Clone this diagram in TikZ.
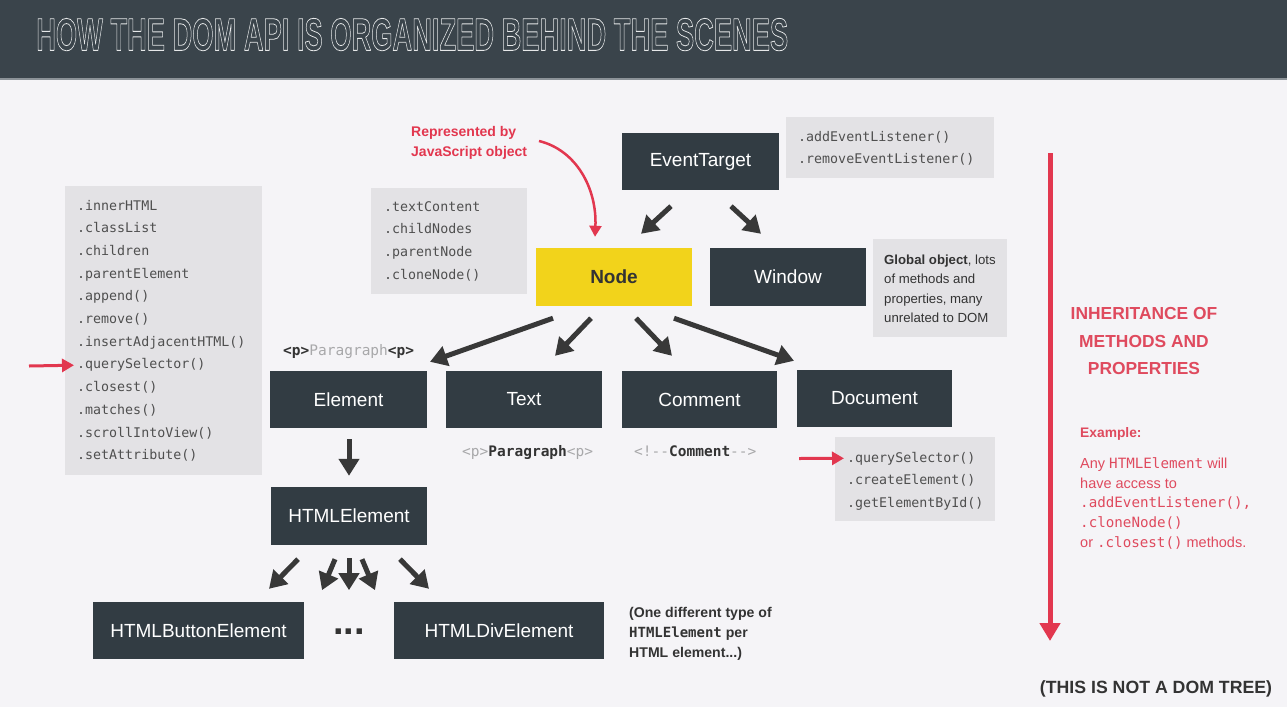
\documentclass[tikz,border=0pt]{standalone}
\usepackage{graphicx}
\usepackage{fontspec}
\setmainfont{Liberation Sans}
\newfontfamily\codefont{DejaVu Sans Mono}
\usetikzlibrary{arrows.meta,calc}

\definecolor{canvas}{HTML}{F5F4F7}
\definecolor{bar}{HTML}{3A444B}
\definecolor{barline}{HTML}{8C9398}
\definecolor{titlegray}{HTML}{E6E8E9}
\definecolor{slate}{HTML}{323C43}
\definecolor{nodeyellow}{HTML}{F2D31B}
\definecolor{propgray}{HTML}{E3E2E5}
\definecolor{codegray}{HTML}{4F4F4F}
\definecolor{ink}{HTML}{333333}
\definecolor{faint}{HTML}{A8A8AA}
\definecolor{accent}{HTML}{E2374F}
\definecolor{accentsoft}{HTML}{DF4A5E}
\definecolor{arrowgray}{HTML}{383838}

\newcommand{\redcode}[1]{{\codefont\fontsize{14.2}{17}\selectfont #1}}
% outlined (stroked, unfilled) lettering for the heading
\newcommand{\outlined}[1]{\special{pdf:literal direct 1 Tr 0.18 w 1 j}#1\special{pdf:literal direct 0 Tr}}

\tikzset{
  classbox/.style={fill=slate, text=white, inner sep=0pt,
    minimum width=#1, minimum height=57pt,
    font=\fontsize{19}{22}\selectfont},
  classbox/.default=156pt,
  propbox/.style 2 args={fill=propgray, inner sep=0pt, anchor=north west,
    minimum width=#1, minimum height=#2},
  codeline/.style={inner sep=0pt, anchor=base west, text=codegray,
    font=\codefont\fontsize{13.3}{16}\selectfont},
  sideline/.style={inner sep=0pt, anchor=base west, text=ink,
    font=\fontsize{13.2}{16}\selectfont},
  tag/.style={inner sep=0pt, anchor=base west,
    font=\codefont\fontsize{14.5}{17}\selectfont},
  redline/.style={inner sep=0pt, anchor=base west, text=accentsoft,
    font=\fontsize{14.5}{17}\selectfont},
  redhead/.style={inner sep=0pt, anchor=base, text=accentsoft,
    font=\bfseries\fontsize{17.4}{20}\selectfont},
  noteline/.style={inner sep=0pt, anchor=base west, text=ink,
    font=\bfseries\fontsize{14.1}{17}\selectfont},
  inh/.style={draw=arrowgray, line width=5pt,
    -{Triangle[length=17pt,width=20pt]}},
  pointer/.style={draw=accent, line width=3pt,
    -{Triangle[length=12pt,width=13pt]}},
}

\begin{document}
\begin{tikzpicture}[x=1pt,y=-1pt]
  % canvas and title bar
  \fill[canvas] (0,0) rectangle (1287,707);
  \useasboundingbox (0,0) rectangle (1287,707);
  \fill[bar] (0,0) rectangle (1287,78);
  \fill[barline] (0,78) rectangle (1287,80);
  \node[anchor=south west, inner sep=0pt, text=titlegray] (title) at (36,51)
    {\resizebox{752pt}{32pt}{\bfseries\outlined{HOW THE DOM API IS ORGANIZED BEHIND THE SCENES}}};

  % class boxes
  \node[classbox=157pt] (et) at (700.5,161.5) {EventTarget};
  \node[classbox, fill=nodeyellow, text=ink, minimum height=58pt,
        font=\bfseries\fontsize{19}{22}\selectfont] (nd) at (614,277) {Node};
  \node[classbox, minimum height=58pt] (win) at (788,277) {Window};
  \node[classbox=157pt] (elem) at (348.5,399.5) {Element};
  \node[classbox] (txt) at (524,399.5) {Text};
  \node[classbox=155pt] (comm) at (699.5,399.5) {Comment};
  \node[classbox=155pt] (doc) at (874.5,398.5) {Document};
  \node[classbox, minimum height=58pt] (html) at (349,516) {HTMLElement};
  \node[classbox=211pt] (btn) at (198.5,630.5) {HTMLButtonElement};
  \node[classbox=210pt] (div) at (499,630.5) {HTMLDivElement};
  \node[inner sep=0pt, anchor=base, text=ink,
        font=\bfseries\fontsize{38}{40}\selectfont] (dots) at (349,634) {...};

  % property and method lists
  \node[propbox={208pt}{61pt}] (etm) at (786,117) {};
  \foreach \p [count=\i] in {.addEventListener(),.removeEventListener()}
    \node[codeline] (etm\i) at ($(etm.north west)+(12,{24+(\i-1)*22.7})$) {\p};

  \node[propbox={156pt}{106pt}] (ndm) at (371,188) {};
  \foreach \p [count=\i] in {.textContent,.childNodes,.parentNode,.cloneNode()}
    \node[codeline] (ndm\i) at ($(ndm.north west)+(13,{23+(\i-1)*22.7})$) {\p};

  \node[propbox={197pt}{289pt}] (elm) at (65,186) {};
  \foreach \p [count=\i] in {.innerHTML,.classList,.children,.parentElement,
      .append(),.remove(),.insertAdjacentHTML(),.querySelector(),.closest(),
      .matches(),.scrollIntoView(),.setAttribute()}
    \node[codeline] (elm\i) at ($(elm.north west)+(12,{24+(\i-1)*22.7})$) {\p};

  \node[propbox={160pt}{84pt}] (dcm) at (835,437) {};
  \foreach \p [count=\i] in {.querySelector(),.createElement(),.getElementById()}
    \node[codeline] (dcm\i) at ($(dcm.north west)+(12,{25+(\i-1)*22.5})$) {\p};

  \node[propbox={134pt}{98pt}] (glob) at (873,239) {};
  \foreach \p [count=\i] in {{\textbf{Global object}, lots},of methods and,
      {properties, many},unrelated to DOM}
    \node[sideline] (glob\i) at ($(glob.north west)+(11,{25+(\i-1)*19.5})$) {\p};

  % markup samples
  \node[tag] (elemtag) at (283,355.5)
    {{\bfseries\color{ink}<p>}{\color{faint}Paragraph}{\bfseries\color{ink}<p>}};
  \node[tag] (txttag) at (462,456.5)
    {{\color{faint}<p>}{\bfseries\color{ink}Paragraph}{\color{faint}<p>}};
  \node[tag] (commtag) at (634,456.5)
    {{\color{faint}<!-\kern0pt-}{\bfseries\color{ink}Comment}{\color{faint}-\kern0pt->}};

  % inheritance arrows
  \draw[inh] ($(et.south)+(-29.5,16)$) -- ($(nd.north)+(27,-14)$);
  \draw[inh] ($(et.south)+(30.5,16)$) -- ($(win.north)+(-27,-14)$);
  \draw[inh] ($(nd.south)+(-61,12)$) -- ($(elem.north)+(81.5,-9)$);
  \draw[inh] ($(nd.south)+(-23,12)$) -- ($(txt.north)+(31,-15)$);
  \draw[inh] ($(nd.south)+(22,12)$) -- ($(comm.north)+(-27.5,-15)$);
  \draw[inh] ($(nd.south)+(60,12)$) -- ($(doc.north)+(-80.5,-9)$);
  \draw[inh] ($(elem.south)+(0.5,11)$) -- ($(html.north)+(0,-11)$);
  \draw[inh] ($(html.south)+(-51,14)$) -- ($(btn.north)+(70.5,-13)$);
  \draw[inh] ($(html.south)+(-14,14)$) -- ($(dots.center)+(-27,-41)$);
  \draw[inh] ($(html.south)+(0,13)$) -- ($(dots.center)+(0,-41)$);
  \draw[inh] ($(html.south)+(13,14)$) -- ($(dots.center)+(26,-41)$);
  \draw[inh] ($(html.south)+(51,14)$) -- ($(div.north)+(-70,-13)$);

  % red annotations
  \node[inner sep=0pt, anchor=base west, text=accent,
        font=\bfseries\fontsize{14}{17}\selectfont] (rep1) at (411,136) {Represented by};
  \node[inner sep=0pt, anchor=base west, text=accent,
        font=\bfseries\fontsize{14}{17}\selectfont] (rep2) at (411,156) {JavaScript object};
  \coordinate (repfrom) at (539,141);
  \draw[draw=accent, line width=2.5pt, -{Triangle[length=11pt,width=12pt]}]
    (repfrom) .. controls (576,150) and (597,188) .. ($(nd.north)+(-19,-11)$);

  \coordinate (qsleft) at (29,366);
  \draw[pointer] (qsleft) -- ($(elm8.west)+(-3,0)$);
  \coordinate (qsdoc) at (799,458.5);
  \draw[pointer] (qsdoc) -- ($(dcm1.west)+(-3,0)$);

  % inheritance direction
  \coordinate (inhtop) at (1050,153);
  \coordinate (inhbot) at (1050,641);
  \draw[draw=accent, line width=5pt, -{Triangle[length=18pt,width=20pt]}]
    (inhtop) -- (inhbot);
  \node[redhead] (ih1) at (1144,319.5) {INHERITANCE OF};
  \node[redhead] (ih2) at (1144,347.5) {METHODS AND};
  \node[redhead] (ih3) at (1144,374.5) {PROPERTIES};
  \node[redline, font=\bfseries\fontsize{13.8}{17}\selectfont] (ex) at (1080,437) {Example:};
  \node[redline] (ex1) at (1080,468) {Any \redcode{HTMLElement} will};
  \node[redline] (ex2) at (1080,488) {have access to};
  \node[redline] (ex3) at (1080,507.5) {\redcode{.addEventListener(),}};
  \node[redline] (ex4) at (1080,527.5) {\redcode{.cloneNode()}};
  \node[redline] (ex5) at (1080,547) {or \redcode{.closest()} methods.};

  % notes
  \node[noteline] (note1) at (629,617) {(One different type of};
  \node[noteline] (note2) at (629,637)
    {{\codefont\fontsize{14}{17}\selectfont HTMLElement} per};
  \node[noteline] (note3) at (629,657) {HTML element...)};
  \node[inner sep=0pt, anchor=base, text=ink,
        font=\bfseries\fontsize{17.7}{20}\selectfont] (nottree) at (1156,693)
    {(THIS IS NOT A DOM TREE)};
\end{tikzpicture}
\end{document}
